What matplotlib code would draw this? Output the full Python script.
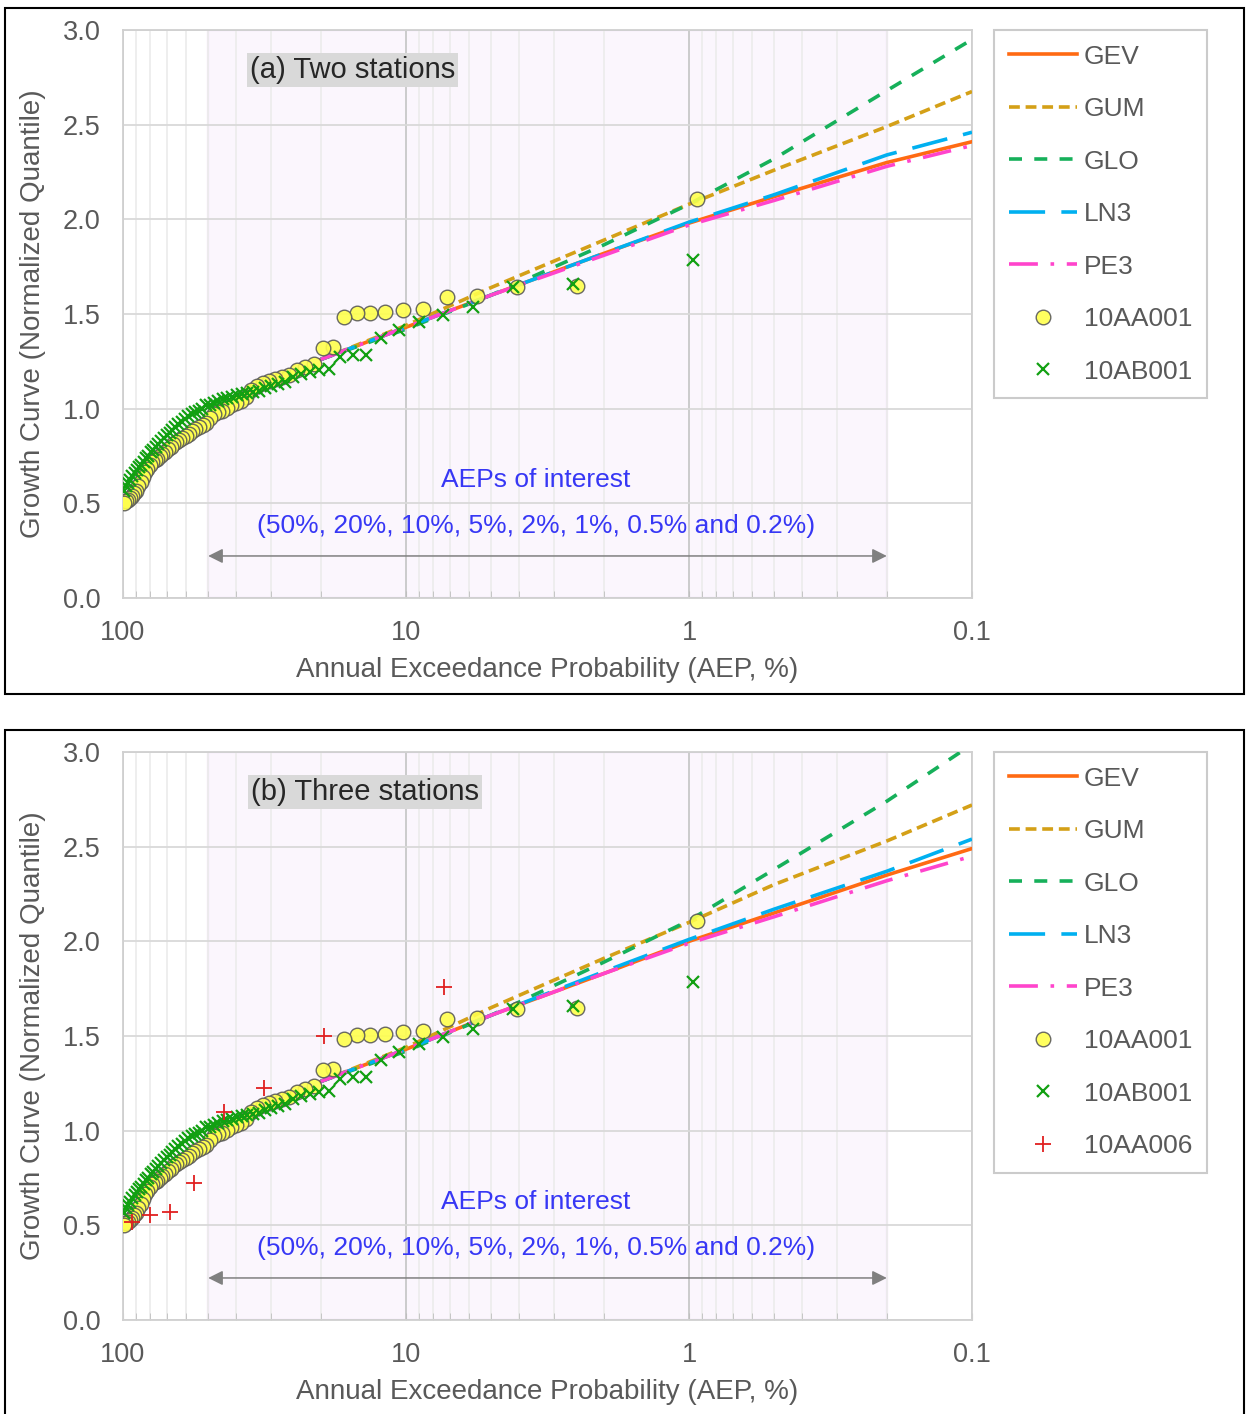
import numpy as np
import matplotlib
matplotlib.use("Agg")
import matplotlib.pyplot as plt
from matplotlib.patches import Rectangle
from matplotlib.ticker import FixedLocator, NullFormatter, LogLocator

plt.rcParams["font.family"] = ["Liberation Sans", "DejaVu Sans"]

GREY = "#595959"
FS_TICK = 19.5
FS_LAB = 20
FS_LEG = 19
FS_NOTE = 19

# fitted growth curves, read at these AEPs (%)
aep_fit = [20, 10, 5, 2, 1, 0.5, 0.2, 0.1]

fit_a = {
    "GEV": [1.26, 1.43, 1.60, 1.82, 1.98, 2.12, 2.30, 2.41],
    "GUM": [1.26, 1.44, 1.64, 1.89, 2.08, 2.26, 2.49, 2.675],
    "GLO": [1.26, 1.42, 1.60, 1.865, 2.08, 2.32, 2.68, 2.95],
    "LN3": [1.26, 1.43, 1.60, 1.82, 1.985, 2.13, 2.34, 2.46],
    "PE3": [1.26, 1.43, 1.60, 1.81, 1.97, 2.10, 2.28, 2.39],
}
fit_b = {
    "GEV": [1.26, 1.43, 1.61, 1.83, 2.00, 2.15, 2.35, 2.49],
    "GUM": [1.26, 1.44, 1.65, 1.91, 2.10, 2.30, 2.53, 2.72],
    "GLO": [1.26, 1.42, 1.61, 1.89, 2.11, 2.38, 2.74, 3.04],
    "LN3": [1.26, 1.43, 1.61, 1.84, 2.01, 2.17, 2.37, 2.54],
    "PE3": [1.26, 1.43, 1.61, 1.83, 1.99, 2.13, 2.32, 2.45],
}

# normalized annual maxima, sorted from largest to smallest
q_10AA001 = [2.11, 1.65, 1.64, 1.595, 1.588, 1.525, 1.521, 1.509, 1.507, 1.504,
             1.483, 1.324, 1.322, 1.236, 1.222, 1.204, 1.180, 1.168, 1.158, 1.146,
             1.134, 1.118, 1.101, 1.060, 1.040, 1.030, 1.018, 1.005, 0.990, 0.980,
             0.970, 0.950, 0.922, 0.912, 0.905, 0.893, 0.880, 0.868, 0.856, 0.843,
             0.832, 0.822, 0.813, 0.800, 0.786, 0.773, 0.760, 0.748, 0.735, 0.727,
             0.716, 0.700, 0.680, 0.665, 0.641, 0.615, 0.590, 0.567, 0.552, 0.540,
             0.530, 0.518, 0.510, 0.502]
q_10AB001 = [1.786, 1.659, 1.643, 1.537, 1.495, 1.457, 1.413, 1.374, 1.286, 1.286,
             1.274, 1.210, 1.202, 1.196, 1.184, 1.166, 1.140, 1.130, 1.118, 1.108,
             1.095, 1.090, 1.085, 1.080, 1.070, 1.062, 1.056, 1.053, 1.042, 1.030,
             1.020, 1.018, 1.000, 0.990, 0.980, 0.972, 0.960, 0.948, 0.932, 0.918,
             0.905, 0.888, 0.874, 0.860, 0.846, 0.830, 0.815, 0.800, 0.782, 0.770,
             0.752, 0.738, 0.720, 0.705, 0.690, 0.675, 0.660, 0.642, 0.625, 0.605,
             0.590, 0.565]
q_10AA006 = [1.759, 1.500, 1.226, 1.099, 0.724, 0.571, 0.555, 0.518]

fit_styles = {
    "GEV": dict(color="#FF6A13", linestyle="-"),
    "GUM": dict(color="#D4A017", dashes=(3.0, 1.6)),
    "GLO": dict(color="#16B05A", dashes=(3.6, 3.4)),
    "LN3": dict(color="#00B0F0", dashes=(10, 4.5)),
    "PE3": dict(color="#FF44CC", dashes=(8, 3.5, 1, 3.5)),
}
station_styles = {
    "10AA001": dict(marker="o", ms=10.5, mfc="#FFFF4D", mec=GREY, mew=1.0, alpha=0.9),
    "10AB001": dict(marker="x", ms=8, color="#12A012", mew=1.6),
    "10AA006": dict(marker="+", ms=11, color="#E02020", mew=1.3),
}


def cunnane(n):
    rank = np.arange(1, n + 1)
    return (rank - 0.4) / (n + 0.2) * 100


def draw_panel(fig, rect, fits, stations, title, title_x, leg_xy):
    ax = fig.add_axes(rect)
    ax.set_xscale("log")
    ax.set_xlim(100, 0.1)
    ax.set_ylim(0, 3)

    # AEPs of interest band
    ax.axvspan(50, 0.2, facecolor="#FBF4FD", alpha=0.8, edgecolor="#E9C8F6",
               lw=1.6, zorder=0.8)

    ax.xaxis.set_major_locator(FixedLocator([100, 10, 1, 0.1]))
    ax.set_xticklabels(["100", "10", "1", "0.1"])
    ax.xaxis.set_minor_locator(LogLocator(base=10, subs=np.arange(2, 10)))
    ax.xaxis.set_minor_formatter(NullFormatter())
    ax.set_yticks(np.arange(0, 3.01, 0.5))
    ax.set_yticklabels([f"{v:.1f}" for v in np.arange(0, 3.01, 0.5)])

    ax.grid(True, which="major", axis="y", color="#D9D9D9", lw=1.3)
    ax.grid(True, which="major", axis="x", color="#C8C8C8", lw=1.3)
    ax.grid(True, which="minor", axis="x", color="#EDEDED", lw=1.3)
    ax.tick_params(axis="both", which="both", labelsize=FS_TICK, labelcolor=GREY,
                   color="#BFBFBF")
    ax.tick_params(axis="y", length=0, pad=16)
    ax.tick_params(axis="x", which="both", direction="in", length=5, pad=16)
    for sp in ax.spines.values():
        sp.set_color("#D0D0D0")
        sp.set_linewidth(1.3)

    ax.set_xlabel("Annual Exceedance Probability (AEP, %)", fontsize=FS_LAB,
                  color=GREY, labelpad=8)
    ax.set_ylabel("Growth Curve (Normalized Quantile)", fontsize=FS_LAB,
                  color=GREY, labelpad=12)

    handles = []
    for name, vals in fits.items():
        (ln,) = ax.plot(aep_fit, vals, lw=2.6, label=name, zorder=3,
                        **fit_styles[name])
        handles.append(ln)
    for name, q in stations:
        (pt,) = ax.plot(cunnane(len(q)), q, linestyle="none", label=name,
                        zorder=4, **station_styles[name])
        handles.append(pt)

    ax.text(title_x, 0.93, title, transform=ax.transAxes, fontsize=21,
            color="#262626", ha="center", va="center",
            bbox=dict(facecolor="#D9D9D9", edgecolor="none", pad=2))
    ax.text(0.4864, 0.2077, "AEPs of interest", transform=ax.transAxes,
            fontsize=FS_NOTE, color="#3737F5", ha="center", va="center")
    ax.text(0.4864, 0.1267, "(50%, 20%, 10%, 5%, 2%, 1%, 0.5% and 0.2%)",
            transform=ax.transAxes, fontsize=FS_NOTE, color="#3737F5",
            ha="center", va="center")
    ax.annotate("", xy=(0.2, 0.222), xytext=(50, 0.222),
                arrowprops=dict(arrowstyle="<|-|>", color="#808080", lw=1.1,
                                mutation_scale=22, shrinkA=0, shrinkB=0),
                zorder=5)

    leg = fig.legend(handles=handles, loc="upper left", bbox_to_anchor=leg_xy,
                     bbox_transform=fig.transFigure, fontsize=FS_LEG,
                     labelcolor=GREY, frameon=True, fancybox=False,
                     edgecolor="#BFBFBF", handlelength=2.6, labelspacing=1.08,
                     borderpad=0.55, handletextpad=0.25, borderaxespad=0)
    leg.get_frame().set_linewidth(1.5)
    return ax


W, H = 1246, 1414
fig = plt.figure(figsize=(W / 100, H / 100), dpi=100)

draw_panel(fig, [123 / W, 1 - 598 / H, 849 / W, 568 / H], fit_a,
           [("10AA001", q_10AA001), ("10AB001", q_10AB001)],
           "(a) Two stations", 0.27, (994 / W, 1 - 30 / H))
draw_panel(fig, [123 / W, 1 - 1320 / H, 849 / W, 568 / H], fit_b,
           [("10AA001", q_10AA001), ("10AB001", q_10AB001),
            ("10AA006", q_10AA006)],
           "(b) Three stations", 0.285, (994 / W, 1 - 752 / H))

# outer frames around each panel
fig.patches.append(Rectangle((5 / W, 1 - 694 / H), 1239 / W, 686 / H,
                             transform=fig.transFigure, fill=False,
                             edgecolor="black", lw=1.5))
fig.patches.append(Rectangle((5 / W, -0.01), 1239 / W, 1 - 730 / H + 0.01,
                             transform=fig.transFigure, fill=False,
                             edgecolor="black", lw=1.5))

fig.savefig("out.png", dpi=100)
plt.close(fig)
